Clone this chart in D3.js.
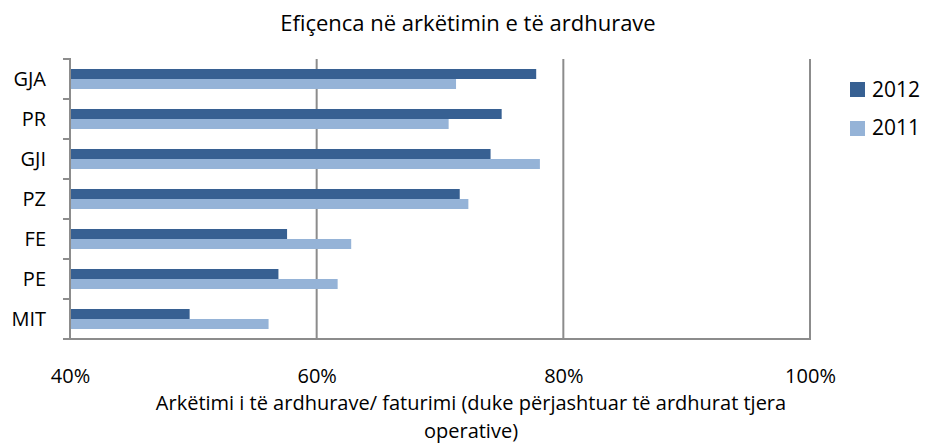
<!DOCTYPE html>
<html>
<head>
<meta charset="utf-8">
<script src="https://cdn.jsdelivr.net/npm/d3@7"></script>
<style>
  body { margin: 0; background: #fff; }
  text { font-family: "Open Sans", "Noto Sans", sans-serif; fill: #000; }
</style>
</head>
<body>
<svg width="927" height="446"></svg>
<script>
// kategoritë dhe vlerat (në %)
const categories = ["GJA", "PR", "GJI", "PZ", "FE", "PE", "MIT"];
const series = ["2012", "2011"];
const values2012 = [77.8, 75.0, 74.1, 71.6, 57.6, 56.9, 49.7];
const values2011 = [71.3, 70.7, 78.1, 72.3, 62.8, 61.7, 56.1];
const tickValues = [40, 60, 80, 100];
const colors = ["#376092", "#95b3d7"];

const svg = d3.select("svg");
const margin = {left: 70, right: 117, top: 59, bottom: 107};
const width = +svg.attr("width");
const height = +svg.attr("height");

const x = d3.scaleLinear()
    .domain([40, 100])
    .range([margin.left, width - margin.right]);

const y = d3.scaleBand()
    .domain(categories)
    .range([margin.top, height - margin.bottom]);

const inner = d3.scaleBand()
    .domain(series)
    .range([0, y.bandwidth()])
    .paddingOuter(1); // 20px bars in a 40px band

// vijat e rrjetit
svg.append("g")
    .selectAll("line")
    .data(tickValues.slice(1))
    .join("line")
    .attr("x1", d => x(d)).attr("x2", d => x(d))
    .attr("y1", margin.top).attr("y2", height - margin.bottom)
    .attr("stroke", "#8c8c8c")
    .attr("stroke-width", 2);

// shiritat
const rows = categories.map((c, i) => ({c, v: [values2012[i], values2011[i]]}));
const g = svg.append("g");
rows.forEach(r => {
    series.forEach((s, j) => {
        g.append("rect")
            .attr("x", x(40))
            .attr("y", y(r.c) + inner(s))
            .attr("width", x(r.v[j]) - x(40))
            .attr("height", inner.bandwidth())
            .attr("fill", colors[j]);
    });
});

// boshti majtas
const ya = svg.append("g")
    .attr("transform", `translate(${margin.left},0)`)
    .call(d3.axisLeft(y).tickSize(0).tickPadding(24));
ya.select(".domain").remove();
ya.selectAll("text")
    .attr("font-family", null)
    .style("font-size", "20px")
    .attr("dy", "0.35em");

// vijat e ndarjes majtas
const sep = categories.map(c => y(c)).concat([height - margin.bottom]);
svg.append("g")
    .selectAll("line")
    .data(sep)
    .join("line")
    .attr("x1", margin.left - 7).attr("x2", margin.left)
    .attr("y1", d => d).attr("y2", d => d)
    .attr("stroke", "#8c8c8c")
    .attr("stroke-width", 2);
svg.append("line")
    .attr("x1", margin.left).attr("x2", margin.left)
    .attr("y1", margin.top - 1).attr("y2", height - margin.bottom + 1)
    .attr("stroke", "#8c8c8c").attr("stroke-width", 2);

// boshti poshtë
svg.append("line")
    .attr("x1", margin.left - 7).attr("x2", x(100) + 1)
    .attr("y1", height - margin.bottom).attr("y2", height - margin.bottom)
    .attr("stroke", "#8c8c8c").attr("stroke-width", 2);

const xa = svg.append("g")
    .attr("transform", `translate(0,${height - margin.bottom})`)
    .call(d3.axisBottom(x).tickValues(tickValues).tickFormat(d => d + "%").tickSize(0).tickPadding(0));
xa.select(".domain").remove();
xa.selectAll("text")
    .attr("font-family", null)
    .style("font-size", "20px")
    .attr("y", 44)
    .attr("dy", null);

// titulli
svg.append("text")
    .attr("x", 468).attr("y", 31)
    .attr("text-anchor", "middle")
    .style("font-size", "22px")
    .text("Efiçenca në arkëtimin e të ardhurave");

// titulli i boshtit
svg.append("text")
    .attr("x", 471).attr("y", 410)
    .attr("text-anchor", "middle")
    .style("font-size", "20px")
    .text("Arkëtimi i të ardhurave/ faturimi (duke përjashtuar të ardhurat tjera");
svg.append("text")
    .attr("x", 471).attr("y", 438)
    .attr("text-anchor", "middle")
    .style("font-size", "20px")
    .text("operative)");

// legjenda
const legend = svg.append("g").attr("transform", "translate(850,82)");
series.forEach((s, i) => {
    legend.append("rect")
        .attr("x", 0).attr("y", i * 39)
        .attr("width", 15).attr("height", 15)
        .attr("fill", colors[i]);
    legend.append("text")
        .attr("x", 22).attr("y", i * 38 + 15)
        .style("font-size", "21px")
        .text(s);
});
</script>
</body>
</html>
